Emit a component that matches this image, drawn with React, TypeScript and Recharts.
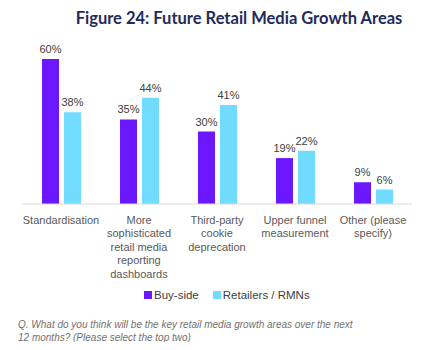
import React from 'react'
import { BarChart, Bar, XAxis, YAxis, LabelList } from 'recharts'

const categories = [
  'Standardisation',
  'More sophisticated retail media reporting dashboards',
  'Third-party cookie deprecation',
  'Upper funnel measurement',
  'Other (please specify)',
]
const tickLabels = [
  ['Standardisation'],
  ['More', 'sophisticated', 'retail media', 'reporting', 'dashboards'],
  ['Third-party', 'cookie', 'deprecation'],
  ['Upper funnel', 'measurement'],
  ['Other (please', 'specify)'],
]
const buySide = [60, 35, 30, 19, 9]
const retailers = [38, 44, 41, 22, 6]

const seriesNames = ['Buy-side', 'Retailers / RMNs']
const seriesColors = ['#6b17ff', '#72dcff']

const title = 'Figure 24: Future Retail Media Growth Areas'
const footnote = [
  'Q. What do you think will be the key retail media growth areas over the next',
  '12 months? (Please select the top two)',
]

const data = categories.map((name, i) => ({
  name,
  idx: i,
  buy: buySide[i],
  ret: retailers[i],
}))

const FONT = '"Liberation Sans", Arial, sans-serif'

function CategoryTick(props: any) {
  const { x, y, payload } = props
  const lines = tickLabels[payload.index] || [payload.value]
  return (
    <text x={x} y={y + 12} textAnchor="middle" fill="#595959" fontSize={11} fontFamily={FONT}>
      {lines.map((l, i) => (
        <tspan key={i} x={x} dy={i === 0 ? 0 : 13.4}>
          {l}
        </tspan>
      ))}
    </text>
  )
}

export default function App() {
  return (
    <div style={{ position: 'relative', width: 422, height: 334, fontFamily: FONT }}>
      <div
        style={{
          position: 'absolute',
          left: 0,
          width: 462,
          top: 0,
          textAlign: 'center',
          fontFamily: 'Lato, sans-serif',
          fontWeight: 700,
          fontSize: 16.5,
          color: '#1f2b5b',
        }}
      >
        {title}
      </div>
      <BarChart
        width={422}
        height={334}
        data={data}
        margin={{ top: 51, right: 18, left: 14, bottom: 78 }}
        barSize={17}
        barGap={5}
      >
        <XAxis
          dataKey="name"
          axisLine={{ stroke: '#d9d9d9' }}
          tickLine={false}
          interval={0}
          height={60}
          tick={<CategoryTick />}
        />
        <YAxis hide domain={[0, 60]} />
        <Bar dataKey="buy" fill={seriesColors[0]} isAnimationActive={false}>
          <LabelList dataKey="buy" position="top" offset={6} formatter={(v: any) => `${v}%`} fill="#404040" fontSize={11} fontFamily={FONT} />
        </Bar>
        <Bar dataKey="ret" fill={seriesColors[1]} isAnimationActive={false}>
          <LabelList dataKey="ret" position="top" offset={6} formatter={(v: any) => `${v}%`} fill="#404040" fontSize={11} fontFamily={FONT} />
        </Bar>
      </BarChart>
      <div
        style={{
          position: 'absolute',
          top: 281,
          left: 136,
          display: 'flex',
          alignItems: 'center',
          fontSize: 11.5,
          color: '#404040',
        }}
      >
        {seriesNames.map((n, i) => (
          <div key={n} style={{ display: 'flex', alignItems: 'center', marginRight: 14 }}>
            <span style={{ width: 8, height: 8, background: seriesColors[i], display: 'inline-block', marginRight: 2 }} />
            {n}
          </div>
        ))}
      </div>
      <div
        style={{
          position: 'absolute',
          top: 310,
          left: 10,
          fontSize: 10,
          fontStyle: 'italic',
          color: '#707070',
          lineHeight: '13px',
        }}
      >
        {footnote.map((l) => (
          <div key={l}>{l}</div>
        ))}
      </div>
    </div>
  )
}
